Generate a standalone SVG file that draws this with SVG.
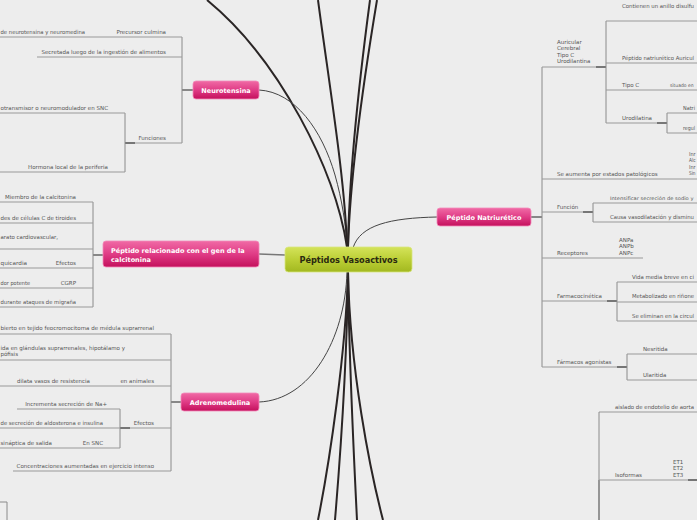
<svg xmlns="http://www.w3.org/2000/svg" width="697" height="520" viewBox="0 0 697 520">
<style>
.t{font-family:"DejaVu Sans","Verdana",sans-serif;font-size:5.5px;fill:#555}
.s{font-size:4.8px}
.e{text-anchor:end}
.ln{stroke:#999;stroke-width:1;fill:none}
.br{stroke:#8a8a8a;stroke-width:1;fill:none}
.dk{stroke:#444;stroke-width:1.2;fill:none}
.th{stroke:#2a2525;stroke-width:2;fill:none}
.cn{stroke:#444;stroke-width:1;fill:none}
.nt{font-family:"DejaVu Sans","Verdana",sans-serif;font-weight:bold;font-size:6.5px;fill:#fff}
.ct{font-family:"DejaVu Sans","Verdana",sans-serif;font-weight:bold;font-size:8.2px;fill:#2a2a10}
</style>
<defs>
<linearGradient id="pk" x1="0" y1="0" x2="0" y2="1">
<stop offset="0" stop-color="#f06aa5"/>
<stop offset="0.5" stop-color="#e03c86"/>
<stop offset="1" stop-color="#c4105c"/>
</linearGradient>
<linearGradient id="gr" x1="0" y1="0" x2="0" y2="1">
<stop offset="0" stop-color="#d4e35a"/>
<stop offset="0.5" stop-color="#bccf36"/>
<stop offset="1" stop-color="#a2b820"/>
</linearGradient>
</defs>
<rect width="697" height="520" fill="#ededed"/>

<g id="connectors">
<path class="th" d="M207,0 C280,60 335,170 347,247"/>
<path class="cn" d="M259,90 C295,92 322,130 335,175 C342,200 346,225 347,247"/>
<path class="th" d="M318,0 C330,90 345,180 347,247"/>
<path class="th" d="M370,0 C358,90 349,180 348,247"/>
<path class="th" d="M377,0 C362,90 350,180 348,247"/>
<path class="th" d="M348,272 C346,350 330,460 318,520"/>
<path class="th" d="M348,272 C347,360 340,460 335,520"/>
<path class="th" d="M348,272 C349,360 354,460 357,520"/>
<path class="th" d="M348,272 C350,370 370,470 383,520"/>
<path class="cn" d="M259,402 C310,400 345,340 347,272"/>
<path class="cn" d="M353,248 C360,225 390,218 437,217"/>
<path d="M259,254 L285,255" stroke="#777" stroke-width="1.5" fill="none"/>
</g>

<g id="neurotensina-branches">
<line class="dk" x1="182" y1="90" x2="193" y2="90"/>
<line class="br" x1="182" y1="37" x2="182" y2="143"/>
<line class="ln" x1="0" y1="37" x2="182" y2="37"/>
<text class="t" x="0.5" y="33.5" textLength="84.5" lengthAdjust="spacingAndGlyphs">de neurotensina y neuromedina</text>
<text class="t e" x="166" y="33.5">Precursor culmina</text>
<line class="ln" x1="37" y1="57" x2="182" y2="57"/>
<text class="t e" x="166" y="53.5">Secretada luego de la ingestión de alimentos</text>
<line class="ln" x1="125" y1="143" x2="182" y2="143"/>
<line class="dk" x1="125" y1="143" x2="135" y2="143"/>
<text class="t e" x="166" y="139.5">Funciones</text>
<line class="br" x1="125" y1="113" x2="125" y2="172"/>
<line class="ln" x1="0" y1="113" x2="125" y2="113"/>
<text class="t" x="0.5" y="109.5" textLength="107.5" lengthAdjust="spacingAndGlyphs">otransmisor o neuromodulador en SNC</text>
<line class="ln" x1="0" y1="172" x2="125" y2="172"/>
<text class="t e" x="108" y="168.5">Hormona local de la periferia</text>
</g>

<g id="cgrp-branches">
<line class="dk" x1="93" y1="255" x2="103" y2="255"/>
<line class="br" x1="93" y1="202" x2="93" y2="307"/>
<line class="ln" x1="0" y1="202" x2="93" y2="202"/>
<text class="t e" x="76" y="198.5">Miembro de la calcitonina</text>
<line class="ln" x1="0" y1="223" x2="93" y2="223"/>
<text class="t" x="0.5" y="219.5" textLength="75.5" lengthAdjust="spacingAndGlyphs">des de células C de tiroides</text>
<line class="ln" x1="0" y1="249" x2="93" y2="249"/>
<text class="t" x="0.5" y="238.5" textLength="57.5" lengthAdjust="spacingAndGlyphs">arato cardiovascular,</text>
<line class="ln" x1="0" y1="268" x2="93" y2="268"/>
<text class="t" x="0.5" y="264.5" textLength="26.5" lengthAdjust="spacingAndGlyphs">quicardia</text>
<text class="t e" x="76" y="264.5">Efectos</text>
<line class="ln" x1="0" y1="288" x2="93" y2="288"/>
<text class="t" x="0.5" y="284.5" textLength="29.5" lengthAdjust="spacingAndGlyphs">dor potente</text>
<text class="t e" x="76" y="284.5">CGRP</text>
<line class="ln" x1="0" y1="307" x2="93" y2="307"/>
<text class="t" x="0.5" y="303.5" textLength="75.5" lengthAdjust="spacingAndGlyphs">durante ataques de migraña</text>
</g>

<g id="adrenomedulina-branches">
<line class="dk" x1="171" y1="402" x2="181" y2="402"/>
<line class="br" x1="171" y1="334" x2="171" y2="471"/>
<line class="ln" x1="0" y1="334" x2="171" y2="334"/>
<text class="t" x="0.5" y="329.5" textLength="153.5" lengthAdjust="spacingAndGlyphs">bierto en tejido feocromocitoma de médula suprarrenal</text>
<line class="ln" x1="0" y1="360" x2="171" y2="360"/>
<text class="t" x="0.5" y="350" textLength="124.5" lengthAdjust="spacingAndGlyphs">ida en glándulas suprarrenales, hipotálamo y</text>
<text class="t" x="0.5" y="356" textLength="17.5" lengthAdjust="spacingAndGlyphs">pófisis</text>
<line class="ln" x1="0" y1="386" x2="171" y2="386"/>
<text class="t e" x="90" y="382.5">dilata vasos de resistencia</text>
<text class="t e" x="154" y="382.5">en animales</text>
<line class="ln" x1="120" y1="428" x2="171" y2="428"/>
<line class="dk" x1="120" y1="428" x2="130" y2="428"/>
<text class="t e" x="154" y="424.5">Efectos</text>
<line class="br" x1="120" y1="409" x2="120" y2="448"/>
<line class="ln" x1="17" y1="409" x2="120" y2="409"/>
<text class="t e" x="107" y="405.5">Incrementa secreción de Na+</text>
<line class="ln" x1="0" y1="428" x2="120" y2="428"/>
<text class="t" x="0.5" y="424.5" textLength="102.5" lengthAdjust="spacingAndGlyphs">de secreción de aldosterona e insulina</text>
<line class="ln" x1="0" y1="448" x2="120" y2="448"/>
<text class="t" x="0.5" y="444.5" textLength="51.5" lengthAdjust="spacingAndGlyphs">sináptica de salida</text>
<text class="t e" x="103" y="444.5">En SNC</text>
<line class="ln" x1="13" y1="471" x2="171" y2="471"/>
<text class="t e" x="154" y="467.5">Concentraciones aumentadas en ejercicio intenso</text>
<path class="br" d="M0,502 H7 V520"/>
</g>

<g id="natriuretico-branches">
<line class="dk" x1="531" y1="217" x2="542" y2="217"/>
<line class="br" x1="542" y1="67" x2="542" y2="367"/>
<line class="ln" x1="542" y1="67" x2="606" y2="67"/>
<line class="dk" x1="596" y1="67" x2="606" y2="67"/>
<text class="t" x="557" y="43.5">Auricular</text>
<text class="t" x="557" y="50">Cerebral</text>
<text class="t" x="557" y="56.5">Tipo C</text>
<text class="t" x="557" y="63">Urodilantina</text>
<line class="br" x1="606" y1="21" x2="606" y2="123"/>
<line class="ln" x1="606" y1="21" x2="697" y2="21"/>
<text class="t" x="622" y="8" textLength="72" lengthAdjust="spacingAndGlyphs">Contienen un anillo disulfu</text>
<line class="ln" x1="606" y1="63" x2="697" y2="63"/>
<text class="t" x="622" y="59.5" textLength="72" lengthAdjust="spacingAndGlyphs">Péptido natriurético Auricul</text>
<line class="ln" x1="606" y1="90" x2="697" y2="90"/>
<text class="t" x="622" y="86.5">Tipo C</text>
<text class="t s" x="670" y="86.5" textLength="23.5" lengthAdjust="spacingAndGlyphs">situado en</text>
<line class="ln" x1="606" y1="123" x2="667" y2="123"/>
<line class="dk" x1="657" y1="123" x2="667" y2="123"/>
<text class="t" x="622" y="119.5">Urodilatina</text>
<line class="br" x1="667" y1="113" x2="667" y2="133"/>
<line class="ln" x1="667" y1="113" x2="697" y2="113"/>
<text class="t" x="683" y="109.5" textLength="12" lengthAdjust="spacingAndGlyphs">Natri</text>
<line class="ln" x1="667" y1="133" x2="697" y2="133"/>
<text class="t" x="683" y="129.5" textLength="12" lengthAdjust="spacingAndGlyphs">regul</text>

<line class="ln" x1="542" y1="179" x2="697" y2="179"/>
<text class="t" x="557" y="175.5">Se aumenta por estados patológicos</text>
<text class="t" x="689" y="155.5" textLength="6.5" lengthAdjust="spacingAndGlyphs">Inr</text>
<text class="t" x="689" y="162" textLength="6.5" lengthAdjust="spacingAndGlyphs">Alc</text>
<text class="t" x="689" y="168.5" textLength="6.5" lengthAdjust="spacingAndGlyphs">Inr</text>
<text class="t" x="689" y="175" textLength="6.5" lengthAdjust="spacingAndGlyphs">Sin</text>

<line class="ln" x1="542" y1="212" x2="593" y2="212"/>
<line class="dk" x1="583" y1="212" x2="593" y2="212"/>
<text class="t" x="557" y="208.5">Función</text>
<line class="br" x1="593" y1="203" x2="593" y2="222"/>
<line class="ln" x1="593" y1="203" x2="697" y2="203"/>
<text class="t s" x="610" y="199.5" textLength="83.5" lengthAdjust="spacingAndGlyphs">Intensificar secreción de sodio y</text>
<line class="ln" x1="593" y1="222" x2="697" y2="222"/>
<text class="t" x="610" y="218.5" textLength="84" lengthAdjust="spacingAndGlyphs">Causa vasodilatación y disminu</text>

<line class="ln" x1="542" y1="258" x2="643" y2="258"/>
<text class="t" x="557" y="254.5">Receptores</text>
<text class="t" x="619" y="241.5">ANPa</text>
<text class="t" x="619" y="248">ANPb</text>
<text class="t" x="619" y="254.5">ANPc</text>

<line class="ln" x1="542" y1="301" x2="617" y2="301"/>
<line class="dk" x1="607" y1="301" x2="617" y2="301"/>
<text class="t" x="557" y="297.5">Farmacocinética</text>
<line class="br" x1="617" y1="282" x2="617" y2="321"/>
<line class="ln" x1="617" y1="282" x2="697" y2="282"/>
<text class="t" x="632" y="278.5" textLength="62" lengthAdjust="spacingAndGlyphs">Vida media breve en ci</text>
<line class="ln" x1="617" y1="302" x2="697" y2="302"/>
<text class="t" x="632" y="297.5" textLength="62" lengthAdjust="spacingAndGlyphs">Metabolizado en riñone</text>
<line class="ln" x1="617" y1="321" x2="697" y2="321"/>
<text class="t" x="632" y="317.5" textLength="62" lengthAdjust="spacingAndGlyphs">Se eliminan en la circul</text>

<line class="ln" x1="542" y1="367" x2="627" y2="367"/>
<line class="dk" x1="617" y1="367" x2="627" y2="367"/>
<text class="t" x="557" y="363.5">Fármacos agonistas</text>
<line class="br" x1="627" y1="354" x2="627" y2="380"/>
<line class="ln" x1="627" y1="354" x2="697" y2="354"/>
<text class="t" x="643" y="350.5">Nesritida</text>
<line class="ln" x1="627" y1="380" x2="697" y2="380"/>
<text class="t" x="643" y="376.5">Ularitida</text>
</g>

<g id="endotelina-branches">
<line class="ln" x1="599" y1="412" x2="697" y2="412"/>
<text class="t" x="615" y="408.5" textLength="79" lengthAdjust="spacingAndGlyphs">aislado de endotelio de aorta</text>
<line class="br" x1="599" y1="412" x2="599" y2="480"/>
<line x1="599" y1="480" x2="599" y2="520" stroke="#777" stroke-width="1.5"/>
<line class="ln" x1="599" y1="480" x2="697" y2="480"/>
<line class="dk" x1="688" y1="480" x2="697" y2="480"/>
<text class="t" x="615" y="476.5">Isoformas</text>
<text class="t" x="673" y="463.5">ET1</text>
<text class="t" x="673" y="470">ET2</text>
<text class="t" x="673" y="476.5">ET3</text>
</g>

<g id="central">
<rect x="285" y="247" width="127" height="25" rx="3.5" fill="url(#gr)" stroke="#d8e680" stroke-width="0.8"/>
<text class="ct" x="348.5" y="262.5" text-anchor="middle">Péptidos Vasoactivos</text>
</g>
<g id="neurotensina">
<rect x="193" y="81" width="66" height="18" rx="3" fill="url(#pk)" stroke="#f28cba" stroke-width="0.8"/>
<text class="nt" x="226" y="92.5" text-anchor="middle">Neurotensina</text>
</g>
<g id="cgrp">
<rect x="103" y="241" width="156" height="26" rx="3" fill="url(#pk)" stroke="#f28cba" stroke-width="0.8"/>
<text class="nt" x="111" y="253">Péptido relacionado con el gen de la</text>
<text class="nt" x="111" y="262">calcitonina</text>
</g>
<g id="adrenomedulina">
<rect x="181" y="393" width="78" height="18" rx="3" fill="url(#pk)" stroke="#f28cba" stroke-width="0.8"/>
<text class="nt" x="220" y="404.5" text-anchor="middle">Adrenomedulina</text>
</g>
<g id="natriuretico">
<rect x="437" y="208" width="94" height="18" rx="3" fill="url(#pk)" stroke="#f28cba" stroke-width="0.8"/>
<text class="nt" x="484" y="219.5" text-anchor="middle">Péptido Natriurético</text>
</g>
</svg>
